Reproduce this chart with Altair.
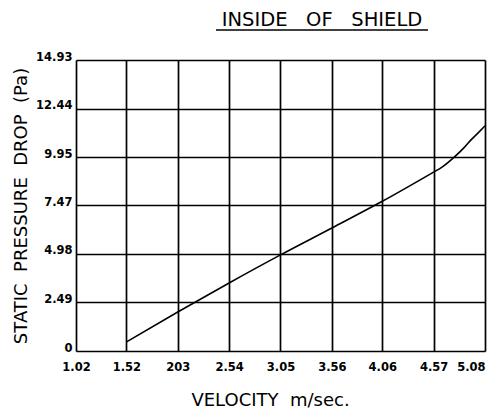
import altair as alt
import pandas as pd

# Data
velocity = [1.52, 2.03, 2.54, 3.05, 3.56, 4.06, 4.57, 4.65, 4.78, 4.87, 4.93, 5.00, 5.08]
pressure = [0.46, 2.00, 3.49, 4.93, 6.31, 7.68, 9.18, 9.42, 9.97, 10.42, 10.77, 11.13, 11.55]

x_ticks = [1.02, 1.52, 2.03, 2.54, 3.05, 3.56, 4.06, 4.57, 5.08]
x_labels = ["1.02", "1.52", "203", "2.54", "3.05", "3.56", "4.06", "4.57", "5.08"]
y_ticks = [0, 2.49, 4.98, 7.47, 9.95, 12.44, 14.93]
y_labels = ["0", "2.49", "4.98", "7.47", "9.95", "12.44", "14.93"]

NB = "\u00a0"
title_text = f"INSIDE{NB*3}OF{NB*3}SHIELD"
x_title = f"VELOCITY{NB*2}m/sec."
y_title = f"STATIC{NB*2}PRESSURE{NB*2}DROP{NB*2}(Pa)"

df = pd.DataFrame({"v": velocity, "p": pressure})

x_expr = " : ".join(
    f"datum.value == {v} ? '{l}'" for v, l in zip(x_ticks, x_labels)
) + " : datum.label"
y_expr = " : ".join(
    f"datum.value == {v} ? '{l}'" for v, l in zip(y_ticks, y_labels)
) + " : datum.label"

font = "DejaVu Sans"

line = alt.Chart(df).mark_line(
    color="black", strokeWidth=1.6, interpolate="monotone"
).encode(
    x=alt.X(
        "v:Q",
        scale=alt.Scale(domain=[1.02, 5.08], nice=False, zero=False),
        axis=alt.Axis(
            values=x_ticks,
            labelExpr=x_expr,
            labelAlign={
                "condition": {"test": f"datum.value == {x_ticks[-1]}", "value": "right"},
                "value": "center",
            },
            title=x_title,
            titleFont=font,
            titleFontSize=18,
            titleFontWeight="normal",
            titlePadding=19,
            titleX=194,
            labelFont=font,
            labelFontSize=11.5,
            labelFontWeight="bold",
            labelPadding=10,
            labelColor="black",
            titleColor="black",
            ticks=False,
            domain=False,
            grid=True,
            gridColor="black",
            gridWidth=1.7,
            gridOpacity=1,
            labelFlush=False,
        ),
    ),
    y=alt.Y(
        "p:Q",
        scale=alt.Scale(domain=[0, 14.93], nice=False),
        axis=alt.Axis(
            values=y_ticks,
            labelExpr=y_expr,
            labelBaseline="alphabetic",
            title=y_title,
            titleFont=font,
            titleFontSize=18,
            titleFontWeight="normal",
            titlePadding=5,
            labelFont=font,
            labelFontSize=11.5,
            labelFontWeight="bold",
            labelPadding=4,
            labelColor="black",
            titleColor="black",
            ticks=False,
            domain=False,
            grid=True,
            gridColor="black",
            gridWidth=1.7,
            gridOpacity=1,
            labelFlush=False,
        ),
    ),
)

tdf = pd.DataFrame({"t": [title_text]})
title_mark = alt.Chart(tdf).mark_text(
    font=font, fontSize=19.5, color="black", align="center", baseline="alphabetic"
).encode(
    text="t:N",
    x=alt.value(246),
    y=alt.value(-34),
)
underline = alt.Chart(tdf).mark_rule(color="black", strokeWidth=1.5).encode(
    x=alt.value(140),
    x2=alt.value(352),
    y=alt.value(-30),
)

chart = (
    alt.layer(line, title_mark, underline)
    .properties(
        width=409,
        height=291,
        autosize=alt.AutoSizeParams(type="none"),
        padding={"left": 68, "top": 52, "right": 4, "bottom": 59},
    )
    .configure_view(stroke="black", strokeWidth=1.8)
    .configure(background="white")
)

chart.save("out.html", embed_options={"renderer": "svg", "actions": False})
